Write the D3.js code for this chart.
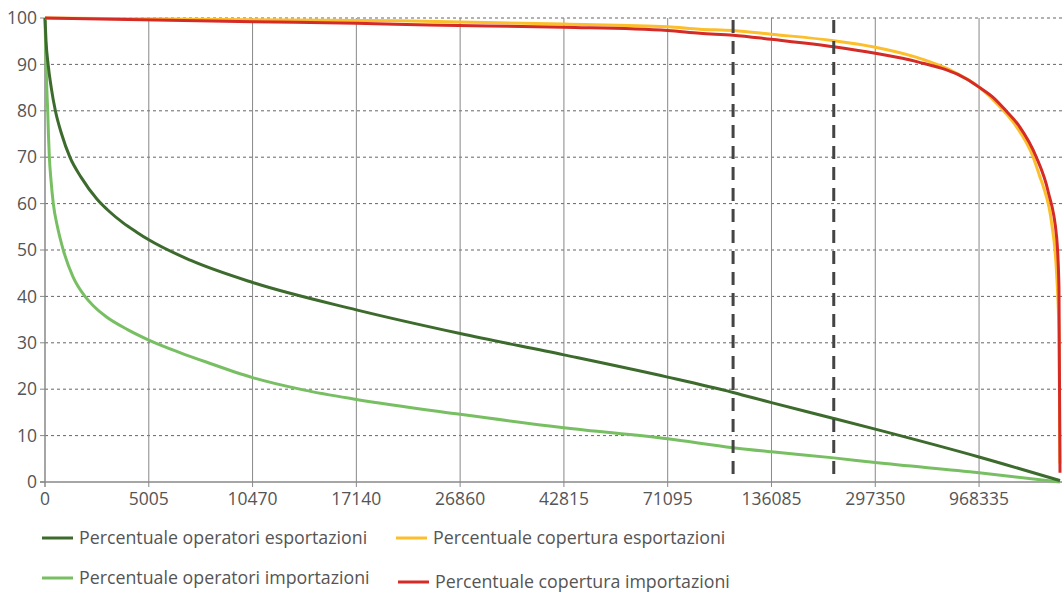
<!DOCTYPE html>
<html>
<head>
<meta charset="utf-8">
<script src="https://cdn.jsdelivr.net/npm/d3@7"></script>
<style>
  body { margin: 0; background: #fff; }
  svg { display: block; }
  text { font-family: "Open Sans", "Noto Sans", sans-serif; fill: #555; }
</style>
</head>
<body>
<div class="chart"></div>
<script>
// x is the position of the operator in the ranking (one tick every 100 points)
var tickLabels = ["0", "5005", "10470", "17140", "26860", "42815", "71095", "136085", "297350", "968335"];
var tickIdx = [0, 100, 200, 300, 400, 500, 600, 700, 800, 900];
var lastIdx = 978;
var markerIdx = [663, 760];

// [position, percent]
var opEsportazioni = [[0,100],[1,95],[3,90],[6,85],[10,80],[16,75],[24,70],[35,65.6],[50,61],[62,58.3],
  [75,55.9],[88,53.9],[100,52.2],[140,47.8],[200,43],[300,37.1],[400,32],[500,27.4],[600,22.6],
  [663,19.3],[700,17.1],[760,13.7],[800,11.4],[900,5.4],[978,0.3]];
var opImportazioni = [[0,100],[0.5,95],[1,90],[1.7,85],[2.6,80],[3.3,75],[4.2,70],[5.8,65],[8,60],
  [12,55],[17.6,50],[27,44.2],[38.5,40],[46.5,38],[59,35.6],[80,32.8],[100,30.6],[130,27.9],[156,25.8],
  [200,22.5],[250,19.8],[300,17.8],[400,14.6],[500,11.7],[600,9.3],[663,7.4],[700,6.5],[760,5.2],
  [800,4.2],[900,2.0],[978,0]];
var copEsportazioni = [[0,100],[200,99.6],[342,99.4],[500,98.7],[600,98.1],[631,97.6],[663,97.3],
  [700,96.5],[760,95.1],[800,93.7],[840,91.5],[872,88.8],[900,85.1],[920,80.9],[936,76.6],
  [952,70.1],[958.6,65.8],[962,63.6],[970,55.7],[974.7,45],[977,32],[978,4]];
var copImportazioni = [[0,100],[200,99.2],[300,98.85],[370,98.5],[500,98.0],[600,97.3],[631,96.7],
  [663,96.3],[700,95.4],[760,93.8],[800,92.4],[840,90.6],[888,86.85],[900,85.1],[914,82.8],
  [926,80.0],[939,76.6],[955,70.1],[966.7,62.5],[974.7,52.9],[977,42],[978,2]];

var seriesNames = ["Percentuale operatori esportazioni", "Percentuale copertura esportazioni",
                   "Percentuale operatori importazioni", "Percentuale copertura importazioni"];
var seriesColors = ["#3d6b2d", "#fcbf2b", "#78bf63", "#d52b26"];

var width = 1062, height = 594;
var svg = d3.select(".chart").append("svg")
  .attr("width", width)
  .attr("height", height);

var x = d3.scaleLinear().domain([0, lastIdx]).range([45, 1060]);
var y = d3.scaleLinear().domain([0, 100]).range([482, 18]);

//horizontal dotted gridlines
svg.selectAll(".hgrid")
  .data(d3.range(10, 101, 10))
  .enter().append("line")
    .attr("x1", 45).attr("x2", 1062)
    .attr("y1", function(d){ return y(d); })
    .attr("y2", function(d){ return y(d); })
    .attr("stroke", "#666")
    .attr("stroke-width", 1)
    .attr("stroke-dasharray", "3,3");

//vertical gridlines with tick marks
svg.selectAll(".vgrid")
  .data(tickIdx.slice(1))
  .enter().append("line")
    .attr("x1", function(d){ return x(d); })
    .attr("x2", function(d){ return x(d); })
    .attr("y1", y(100)).attr("y2", 487)
    .attr("stroke", "#888")
    .attr("stroke-width", 1);

//axes
svg.append("line")
  .attr("x1", 45).attr("x2", 45).attr("y1", y(100)).attr("y2", 487)
  .attr("stroke", "#888").attr("stroke-width", 1.5);
svg.append("line")
  .attr("x1", 40).attr("x2", 1062).attr("y1", y(0)).attr("y2", y(0))
  .attr("stroke", "#888").attr("stroke-width", 1.5);
svg.selectAll(".ytick")
  .data(d3.range(0, 101, 10))
  .enter().append("line")
    .attr("x1", 40).attr("x2", 45)
    .attr("y1", function(d){ return y(d); })
    .attr("y2", function(d){ return y(d); })
    .attr("stroke", "#888");

svg.selectAll(".ylabel")
  .data(d3.range(0, 101, 10))
  .enter().append("text")
    .attr("x", 37)
    .attr("y", function(d){ return y(d); })
    .attr("dy", "0.35em")
    .attr("text-anchor", "end")
    .attr("font-size", "17.5px")
    .text(function(d){ return d; });

svg.selectAll(".xlabel")
  .data(tickLabels)
  .enter().append("text")
    .attr("x", function(d, i){ return x(tickIdx[i]); })
    .attr("y", 505)
    .attr("text-anchor", "middle")
    .attr("font-size", "17.5px")
    .text(function(d){ return d; });

//series
var line = d3.line()
  .x(function(d){ return x(d[0]); })
  .y(function(d){ return y(d[1]); })
  .curve(d3.curveMonotoneX);

var drawOrder = [[opImportazioni, 2], [opEsportazioni, 0], [copEsportazioni, 1], [copImportazioni, 3]];
drawOrder.forEach(function(s){
  svg.append("path")
    .attr("d", line(s[0]))
    .attr("fill", "none")
    .attr("stroke", seriesColors[s[1]])
    .attr("stroke-width", 3)
    .attr("stroke-linejoin", "round");
});

//dashed markers
svg.selectAll(".marker")
  .data(markerIdx)
  .enter().append("line")
    .attr("x1", function(d){ return x(d); })
    .attr("x2", function(d){ return x(d); })
    .attr("y1", 20).attr("y2", 482)
    .attr("stroke", "#444")
    .attr("stroke-width", 3)
    .attr("stroke-dasharray", "13,8");

//legend
var legendPos = [[42, 538], [396, 538], [42, 578], [398, 582]];
var legend = svg.selectAll(".legend")
  .data(seriesNames)
  .enter().append("g")
    .attr("transform", function(d, i){ return "translate(" + legendPos[i][0] + "," + legendPos[i][1] + ")"; });
legend.append("line")
  .attr("x1", 0).attr("x2", 31)
  .attr("stroke", function(d, i){ return seriesColors[i]; })
  .attr("stroke-width", 3);
legend.append("text")
  .attr("x", 37)
  .attr("y", 0)
  .attr("dy", "0.35em")
  .attr("font-size", "17.8px")
  .text(function(d){ return d; });
</script>
</body>
</html>
